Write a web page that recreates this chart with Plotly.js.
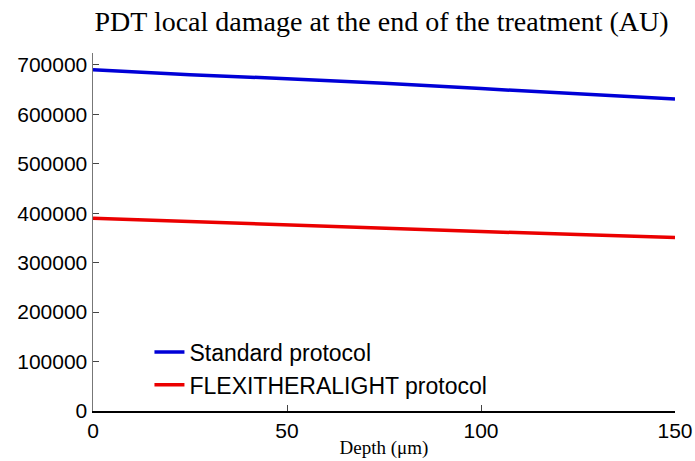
<!DOCTYPE html>
<html>
<head>
<meta charset="utf-8">
<script src="https://cdn.plot.ly/plotly-3.0.1.min.js"></script>
<style>html,body{margin:0;padding:0;background:#fff;}#chart{width:695px;height:461px;}</style>
</head>
<body>
<div id="chart"></div>
<script>
const depth = [0, 25, 50, 75, 100, 125, 150];
const standardProtocol = [690000, 680000, 672000, 663000, 652000, 642000, 631000];
const flexitheralightProtocol = [390000, 383000, 376000, 370000, 363000, 357000, 351000];
const seriesNames = ["Standard protocol", "FLEXITHERALIGHT protocol"];
const xTicks = [0, 50, 100, 150];
const yTicks = [0, 100000, 200000, 300000, 400000, 500000, 600000, 700000];

const traces = [
  {x: depth, y: standardProtocol, name: seriesNames[0], mode: "lines",
   line: {color: "rgb(0,0,215)", width: 3.5}},
  {x: depth, y: flexitheralightProtocol, name: seriesNames[1], mode: "lines",
   line: {color: "rgb(235,0,0)", width: 3.5}}
];

const layout = {
  width: 695, height: 461,
  paper_bgcolor: "#fff", plot_bgcolor: "#fff",
  margin: {l: 93, r: 20, t: 53, b: 50},
  showlegend: true,
  title: {text: "PDT local damage at the end of the treatment (AU)",
    font: {family: "Liberation Serif, Times New Roman, serif", size: 28, color: "#000"},
    x: 0.549, xanchor: "center", y: 0.953, yanchor: "middle"},
  xaxis: {range: [0, 150], tickvals: xTicks, ticktext: xTicks.map(String),
    showgrid: false, zeroline: false, showline: true, linecolor: "#000", linewidth: 1.5,
    ticks: "inside", ticklen: 6, tickcolor: "#444",
    tickfont: {family: "Liberation Sans, Arial, sans-serif", size: 21, color: "#000"},
    title: {text: "Depth (μm)", standoff: 0,
      font: {family: "Liberation Serif, Times New Roman, serif", size: 19, color: "#000"}}},
  yaxis: {range: [0, 724000], tickvals: yTicks, ticktext: yTicks.map(String),
    showgrid: false, zeroline: false, showline: true, linecolor: "#777", linewidth: 1.5,
    ticks: "inside", ticklen: 6, tickcolor: "#444",
    tickfont: {family: "Liberation Sans, Arial, sans-serif", size: 21, color: "#000"}},
  legend: {x: 0.097, y: 0.225, xanchor: "left", yanchor: "top", bgcolor: "rgba(0,0,0,0)",
    font: {family: "Liberation Sans, Arial, sans-serif", size: 23, color: "#000"},
    tracegroupgap: 0}
};

Plotly.newPlot("chart", traces, layout, {displayModeBar: false, staticPlot: true});
</script>
</body>
</html>
